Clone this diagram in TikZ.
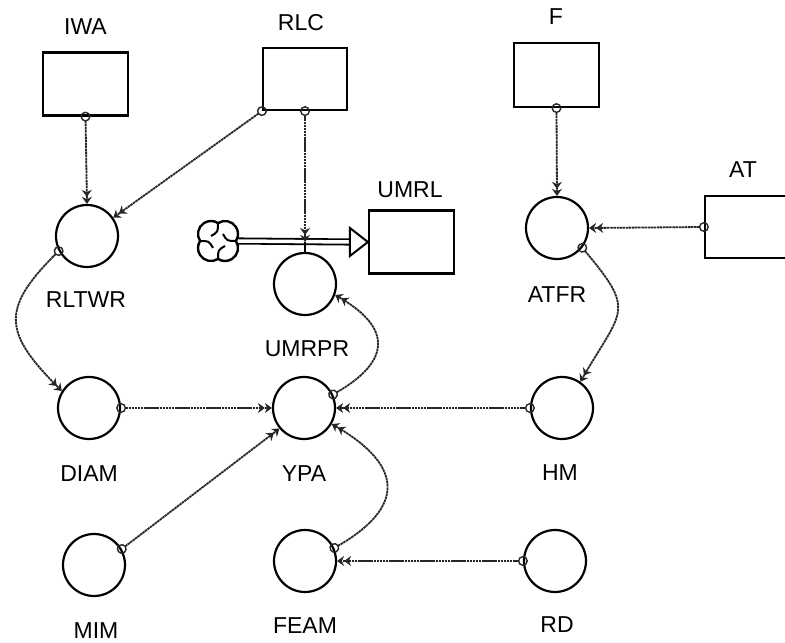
\documentclass[tikz,border=0pt]{standalone}
\usepackage{fontspec}
\setmainfont{Liberation Sans}
\usetikzlibrary{arrows.meta}
\begin{document}
\begin{tikzpicture}[x=1pt,y=1pt,
  stock/.style={draw, line width=2.2pt, minimum width=85pt, minimum height=63pt, inner sep=0pt},
  aux/.style={draw, circle, line width=2.2pt, minimum size=62pt, inner sep=0pt},
  lbl/.style={font=\fontsize{23}{27}\selectfont, inner sep=0pt},
  infl/.style={draw=black!85, line width=1.8pt, dash pattern=on 2.5pt off 0.6pt, shorten <=-5pt,
    {Circle[open,length=10pt,width=10pt,line width=1.4pt]}-{Stealth[length=7pt,width=10pt]Stealth[length=7pt,width=10pt]}},
  pipe/.style={line width=1.8pt, double distance=3.5pt}
]
\useasboundingbox (0,0) rectangle (785,643);
\clip (0,0) rectangle (785,643);

% stocks
\node[stock] (IWA) at (85.5,559) {};
\node[stock, minimum width=84pt, minimum height=62pt] (RLC) at (305,564) {};
\node[stock] (UMRL) at (411.5,401) {};
\node[stock, minimum height=64pt] (F) at (556.5,568) {};
\node[stock, minimum width=95pt, minimum height=62pt] (AT) at (752.5,416) {};

% auxiliaries
\node[aux] (RLTWR) at (87,407) {};
\node[aux] (UMRPR) at (305,359) {};
\node[aux] (ATFR) at (557,415) {};
\node[aux] (DIAM) at (89,235) {};
\node[aux] (YPA) at (304,235) {};
\node[aux] (HM) at (562,235) {};
\node[aux] (MIM) at (94,78) {};
\node[aux] (FEAM) at (305,82) {};
\node[aux] (RD) at (555,82) {};

% labels
\node[lbl] (tIWA) at (85.5,616) {IWA};
\node[lbl] (tRLC) at (301,620) {RLC};
\node[lbl] (tF) at (556,626) {F};
\node[lbl] (tAT) at (743,473) {AT};
\node[lbl] (tUMRL) at (410,453) {UMRL};
\node[lbl] (tRLTWR) at (86,343) {RLTWR};
\node[lbl] (tATFR) at (557,348) {ATFR};
\node[lbl] (tUMRPR) at (307,294) {UMRPR};
\node[lbl] (tDIAM) at (89,169) {DIAM};
\node[lbl] (tYPA) at (304,169) {YPA};
\node[lbl] (tHM) at (560,170) {HM};
\node[lbl] (tMIM) at (96,12) {MIM};
\node[lbl] (tFEAM) at (305,17) {FEAM};
\node[lbl] (tRD) at (557,18) {RD};

% cloud (source)
\node[minimum size=40pt, inner sep=0pt] (cloud) at (218,402) {};
\begin{scope}[shift={(cloud.center)}, line width=2.4pt]
  \draw (0,17.95) arc[start angle=122.6,end angle=-32.6,radius=13]
        arc[start angle=32.6,end angle=-122.6,radius=13]
        arc[start angle=-57.4,end angle=-212.6,radius=13]
        arc[start angle=-147.4,end angle=-302.6,radius=13] -- cycle;
  \foreach \k in {0,90,180,270}
    \draw[rotate=\k, line width=2pt] (0,17.95) .. controls (0,9) .. (-7,5);
\end{scope}

% flow pipe
\coordinate (valve) at (305,401);
\draw[pipe] (cloud.east) -- ([xshift=-18pt]UMRL.west);
\draw[line width=2pt, fill=white] ([shift={(-18pt,14pt)}]UMRL.west) -- (UMRL.west) -- ([shift={(-18pt,-14pt)}]UMRL.west) -- cycle;
\draw[line width=1.6pt] (valve) -- (UMRPR.north);

% connectors
\draw[infl] (IWA.south) -- (RLTWR.north);
\draw[infl] (RLC.south west) -- (RLTWR.35);
\draw[infl] (RLC.south) -- (valve);
\draw[infl] (RLTWR.208) to[out=225,in=135,looseness=1.5] (DIAM.148);
\draw[infl] (DIAM.east) -- (YPA.west);
\draw[infl] (MIM.30) -- (YPA.220);
\draw[infl] (HM.west) -- (YPA.east);
\draw[infl] (YPA.25) to[out=30,in=-30,looseness=1.7] (UMRPR.-20);
\draw[infl] (FEAM.24) to[out=30,in=-30,looseness=1.7] (YPA.-30);
\draw[infl] (RD.west) -- (FEAM.east);
\draw[infl] (ATFR.-38) to[out=-50,in=60,looseness=1.6] (HM.55);
\draw[infl] (AT.west) -- (ATFR.east);
\draw[infl] (F.south) -- (ATFR.north);
\end{tikzpicture}
\end{document}
